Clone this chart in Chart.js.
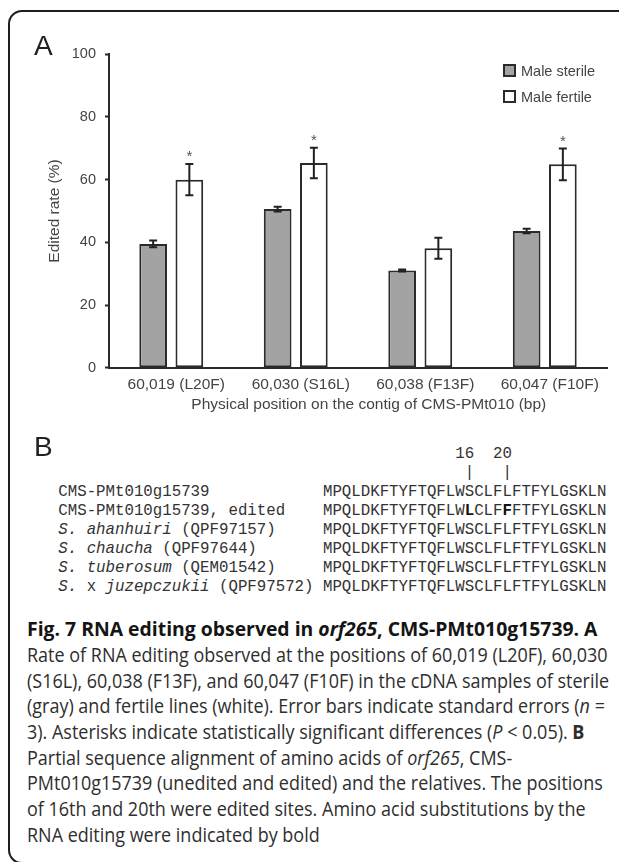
<!DOCTYPE html>
<html>
<head>
<meta charset="utf-8">
<title>Fig. 7 RNA editing in orf265</title>
<script src="https://cdn.jsdelivr.net/npm/chart.js@4.4.0/dist/chart.umd.min.js"></script>
<style>
  html, body { margin: 0; padding: 0; background: #fff; overflow: hidden; }
  body { width: 619px; height: 862px; position: relative; }
  #frame {
    position: absolute; left: 8px; top: 10px; width: 700px; height: 850px;
    border: 2px solid #1e1e1e; border-radius: 14px;
  }
  #grafico { position: absolute; left: 0; top: 0; }
  .painel { position: absolute; font-family: "Liberation Sans", Arial, sans-serif; font-size: 28px; line-height: 1; color: #222; }
  .legenda { position: absolute; font-family: "Liberation Sans", Arial, sans-serif; font-size: 14.5px; line-height: 1; color: #444; white-space: nowrap; }
  .legenda span.caixa { position: absolute; left: -18px; top: 0px; width: 13px; height: 13px; box-sizing: border-box; border: 2px solid #2b2b2b; }
  #alinhamento {
    position: absolute; left: 58.3px; top: 444.8px; margin: 0;
    font-family: "Courier New", "Liberation Mono", monospace; font-size: 15.75px; line-height: 19px; color: #333;
  }
  #alinhamento b { color: #111; }
  #legenda-fig {
    position: absolute; left: 26.7px; top: 616.4px;
    font-family: "Open Sans", sans-serif; font-size: 20px; line-height: 25.66px; color: #2e2e2e;
  }
  #legenda-fig div { white-space: nowrap; transform-origin: 0 0; }
  #legenda-fig .titulo { font-weight: bold; color: #141414; }
</style>
</head>
<body>
<div id="frame"></div>
<canvas id="grafico" width="619" height="430"></canvas>

<div class="painel" style="left:34px; top:32.3px;">A</div>
<div class="legenda" style="left:521px; top:63.6px;"><span class="caixa" style="background:#a3a3a3; top:0.5px;"></span>Male sterile</div>
<div class="legenda" style="left:521px; top:89.9px;"><span class="caixa" style="background:#fff; top:0.5px;"></span>Male fertile</div>

<div class="painel" style="left:34px; top:433.3px;">B</div>
<pre id="alinhamento">                                          16  20
                                           |   |
CMS-PMt010g15739            MPQLDKFTYFTQFLWSCLFLFTFYLGSKLN
CMS-PMt010g15739, edited    MPQLDKFTYFTQFLW<b>L</b>CLF<b>F</b>FTFYLGSKLN
<i>S. ahanhuiri</i> (QPF97157)     MPQLDKFTYFTQFLWSCLFLFTFYLGSKLN
<i>S. chaucha</i> (QPF97644)       MPQLDKFTYFTQFLWSCLFLFTFYLGSKLN
<i>S. tuberosum</i> (QEM01542)     MPQLDKFTYFTQFLWSCLFLFTFYLGSKLN
<i>S.</i> x <i>juzepczukii</i> (QPF97572) MPQLDKFTYFTQFLWSCLFLFTFYLGSKLN</pre>

<div id="legenda-fig">
  <div class="titulo"><span>Fig. 7 RNA editing observed in <i>orf265</i>, CMS-PMt010g15739. A</span></div>
  <div class="corpo"><span id="linhaRef">Rate of RNA editing observed at the positions of 60,019 (L20F), 60,030</span></div>
  <div class="corpo"><span>(S16L), 60,038 (F13F), and 60,047 (F10F) in the cDNA samples of sterile</span></div>
  <div class="corpo"><span>(gray) and fertile lines (white). Error bars indicate standard errors (<i>n</i> =</span></div>
  <div class="corpo"><span>3). Asterisks indicate statistically significant differences (<i>P</i> &lt; 0.05). <b>B</b></span></div>
  <div class="corpo"><span>Partial sequence alignment of amino acids of <i>orf265</i>, CMS-</span></div>
  <div class="corpo"><span>PMt010g15739 (unedited and edited) and the relatives. The positions</span></div>
  <div class="corpo"><span>of 16th and 20th were edited sites. Amino acid substitutions by the</span></div>
  <div class="corpo"><span>RNA editing were indicated by bold</span></div>
</div>

<script>
// dados
const posicoes = ['60,019 (L20F)', '60,030 (S16L)', '60,038 (F13F)', '60,047 (F10F)'];
const taxaEsteril = [39.5, 50.6, 31.0, 43.6];
const erroEsteril = [1.1, 0.75, 0.3, 0.7];
const taxaFertil = [60.0, 65.3, 38.1, 64.9];
const erroFertil = [5.0, 4.85, 3.35, 5.05];
const significativo = [true, true, false, true];
const eixoY = { min: 0, max: 100, passo: 20 };

const corTexto = '#444';
const fonteEixo = "'Liberation Sans', Arial, sans-serif";

// barras de erro e asteriscos
const barrasErro = {
    id: 'barrasErro',
    afterDatasetsDraw(chart) {
        const ctx = chart.ctx;
        const escalaY = chart.scales.y;
        const erros = [erroEsteril, erroFertil];
        chart.data.datasets.forEach((ds, i) => {
            const meta = chart.getDatasetMeta(i);
            meta.data.forEach((barra, j) => {
                const v = ds.data[j];
                const e = erros[i][j];
                const topo = escalaY.getPixelForValue(v + e);
                const base = escalaY.getPixelForValue(v - e);
                ctx.save();
                ctx.strokeStyle = '#222';
                ctx.lineWidth = 2;
                ctx.beginPath();
                ctx.moveTo(barra.x, topo); ctx.lineTo(barra.x, base);
                ctx.moveTo(barra.x - 4, topo); ctx.lineTo(barra.x + 4, topo);
                ctx.moveTo(barra.x - 4, base); ctx.lineTo(barra.x + 4, base);
                ctx.stroke();
                if (i === 1 && significativo[j]) {
                    ctx.fillStyle = '#555';
                    ctx.font = '15px ' + fonteEixo;
                    ctx.textAlign = 'center';
                    ctx.textBaseline = 'alphabetic';
                    ctx.fillText('*', barra.x, topo - 2.8);
                }
                ctx.restore();
            });
        });
    }
};

const contexto = document.getElementById('grafico').getContext('2d');
new Chart(contexto, {
    type: 'bar',
    data: {
        labels: posicoes,
        datasets: [
            {
                label: 'Male sterile',
                data: taxaEsteril,
                backgroundColor: '#a3a3a3',
                borderColor: '#2b2b2b',
                borderWidth: 2,
                borderSkipped: false,
                categoryPercentage: 0.5815,
                barPercentage: 0.765,
            },
            {
                label: 'Male fertile',
                data: taxaFertil,
                backgroundColor: '#ffffff',
                borderColor: '#2b2b2b',
                borderWidth: 2,
                borderSkipped: false,
                categoryPercentage: 0.5815,
                barPercentage: 0.765,
            },
        ],
    },
    options: {
        responsive: false,
        animation: false,
        layout: { padding: { left: 0, top: 54.3, right: 12, bottom: 15.7 } },
        plugins: {
            legend: { display: false },
            tooltip: { enabled: false },
        },
        scales: {
            x: {
                afterFit: (escala) => { escala.height = 46.6; },
                grid: { display: true, drawOnChartArea: false, drawTicks: false },
                border: { display: true, color: '#2b2b2b', width: 2 },
                ticks: {
                    color: corTexto,
                    padding: 8,
                    labelOffset: 5,
                    maxRotation: 0,
                    font: { family: fonteEixo, size: 15.5 },
                },
                title: {
                    display: true,
                    text: '     Physical position on the contig of CMS-PMt010 (bp)',
                    color: corTexto,
                    padding: { top: 0, bottom: 0 },
                    font: { family: fonteEixo, size: 15.5 },
                },
            },
            y: {
                min: eixoY.min,
                max: eixoY.max,
                afterFit: (escala) => { escala.width = 109; },
                grid: { display: true, drawOnChartArea: false, drawTicks: true, tickLength: 4, tickWidth: 2, tickColor: '#2b2b2b' },
                border: { display: true, color: '#2b2b2b', width: 2 },
                ticks: {
                    stepSize: eixoY.passo,
                    color: corTexto,
                    padding: 9,
                    font: { family: fonteEixo, size: 14.5 },
                },
                title: {
                    display: true,
                    text: 'Edited rate (%)',
                    color: corTexto,
                    padding: { top: 45.7, bottom: 0 },
                    font: { family: fonteEixo, size: 15.5 },
                },
            },
        },
    },
    plugins: [barrasErro],
});

// ajuste horizontal da legenda da figura (fonte condensada no original)
function ajustarLegenda() {
    const ref = document.getElementById('linhaRef');
    const escalaCorpo = 580.6 / ref.offsetWidth;
    document.querySelectorAll('#legenda-fig .corpo').forEach(d => {
        d.style.transform = 'scaleX(' + escalaCorpo + ')';
    });
    const titulo = document.querySelector('#legenda-fig .titulo');
    const escalaTitulo = 570.6 / titulo.firstElementChild.offsetWidth;
    titulo.style.transform = 'scaleX(' + escalaTitulo + ')';
}
ajustarLegenda();
if (document.fonts) document.fonts.ready.then(ajustarLegenda);
</script>
</body>
</html>
